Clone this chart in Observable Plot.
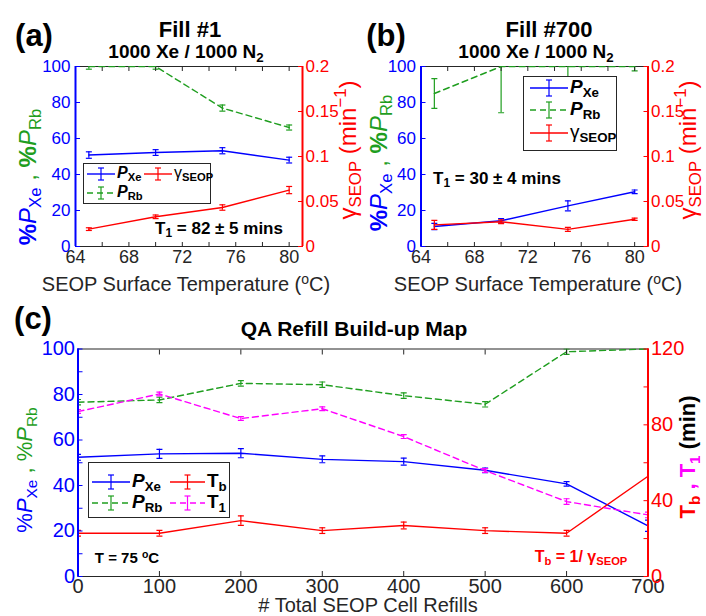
<!DOCTYPE html>
<html><head><meta charset="utf-8">
<script src="https://cdn.jsdelivr.net/npm/d3@7"></script>
<script src="https://cdn.jsdelivr.net/npm/@observablehq/plot@0.6"></script>
<style>
body{margin:0;background:#fff;}
#wrap{position:relative;width:706px;height:616px;overflow:hidden;font-family:"Liberation Sans",Arial,sans-serif;background:#fff;}
.abs{position:absolute;white-space:nowrap;line-height:1;}
.sub{font-size:0.7em;vertical-align:-0.3em;}
.sup{font-size:0.7em;vertical-align:0.55em;}
.leg{position:absolute;box-sizing:border-box;border:1px solid #262626;background:#fff;}
svg.plotpanel{position:absolute;}
</style></head>
<body><div id="wrap"></div>
<script>
// ---------- colours ----------
const BLUE = "#0000ff", GREEN = "#1f9e1f", RED = "#ff0000", MAG = "#ff00ff", INK = "#262626";

// ---------- Panel (a): Fill #1 ----------
const tempsA = [65, 70, 75, 80];
const pxeA = [50.8, 52.2, 53.2, 48.0];
const pxeErrA = [1.8, 1.6, 1.7, 1.6];
const prbA = [100, 100, 76.9, 66.1];
const prbErrA = [1.5, 1.5, 1.7, 1.4];
const gammaA = [0.0193, 0.033, 0.0433, 0.0627];
const gammaErrA = [0.0015, 0.002, 0.003, 0.004];

// ---------- Panel (b): Fill #700 ----------
const tempsB = [65, 70, 75, 80];
const pxeB = [11.1, 14.3, 22.6, 30.4];
const pxeErrB = [1.8, 1.2, 2.8, 1.0];
const prbB = [85, 100, 100, 100];
const prbErrB = [8.3, 25.7, 6.5, 2.4];
const gammaB = [0.024, 0.0275, 0.019, 0.0303];
const gammaErrB = [0.005, 0.002, 0.0022, 0.0012];

// ---------- Panel (c): QA refill build-up map ----------
const refills = [0, 100, 200, 300, 400, 500, 600, 700];
const pxeC = [52.4, 53.9, 54.2, 51.5, 50.5, 46.7, 40.7, 22.3];
const pxeErrC = [1.3, 2, 2, 1.5, 1.5, 1, 1, 2.5];
const prbC = [76.6, 77.6, 84.9, 84.3, 79.5, 75.7, 98.8, 100];
const prbErrC = [1.2, 1.2, 1.2, 1.2, 1.2, 1.2, 1.2, 0];
const t1C = [87.0, 96.3, 83.3, 88.5, 73.8, 55.9, 39.5, 32.5];
const t1ErrC = [1, 1, 1, 1, 1, 1, 1.5, 1.5];
const tbC = [22.8, 22.8, 29.5, 24.2, 26.9, 24.2, 22.8, 52.9];
const tbErrC = [1.5, 1.5, 2.5, 1.5, 1.8, 1.5, 1.5, 0];

// ---------- ticks ----------
const tempDomain = [64, 81];
const tempTicks = [64, 66, 68, 70, 72, 74, 76, 78, 80];
const tempLabels = [64, 68, 72, 76, 80];
const pctDomain = [0, 100];
const pctTicksAB = [0, 20, 40, 60, 80, 100];
const gammaTicks = [0, 0.05, 0.1, 0.15, 0.2];
const refillDomain = [0, 700];
const refillTicks = [0, 100, 200, 300, 400, 500, 600, 700];
const pctTicksC = [0, 10, 20, 30, 40, 50, 60, 70, 80, 90, 100];
const pctLabelsC = [0, 20, 40, 60, 80, 100];
const minTicks = [0, 20, 40, 60, 80, 100, 120];
const minLabels = [0, 40, 80, 120];

const FONT = "Liberation Sans, Arial, sans-serif";
const wrap = document.getElementById("wrap");

const cap = {draw(ctx, size) { const r = Math.sqrt(size / Math.PI); ctx.moveTo(-r, 0); ctx.lineTo(r, 0); }};

function errMarks(rows, x, y, e, color) {
  const data = rows.filter(d => e(d) > 0);
  const o = {stroke: color, strokeWidth: 1.2, clip: true};
  return [
    Plot.ruleX(data, {x, y1: d => y(d) - e(d), y2: d => y(d) + e(d), ...o}),
    Plot.dot(data, {x, y: d => y(d) - e(d), symbol: cap, r: 3, fill: "none", ...o}),
    Plot.dot(data, {x, y: d => y(d) + e(d), symbol: cap, r: 3, fill: "none", ...o})
  ];
}

function place(svg, left, top) {
  svg.classList.add("plotpanel");
  svg.style.left = left + "px";
  svg.style.top = top + "px";
  wrap.appendChild(svg);
}

// ---------- panels (a) and (b) ----------
function tempPanel(temps, pxe, pxeErr, prb, prbErr, gamma, gammaErr, geo) {
  const gk = pctDomain[1] / gammaTicks[gammaTicks.length - 1];
  const rows = temps.map((t, i) => ({t, pxe: pxe[i], pxeE: pxeErr[i], prb: prb[i], prbE: prbErr[i], g: gamma[i] * gk, gE: gammaErr[i] * gk}));
  return Plot.plot({
    width: geo.width, height: geo.height,
    marginLeft: geo.ml, marginRight: geo.mr, marginTop: geo.mt, marginBottom: geo.mb,
    x: {domain: tempDomain, label: null},
    y: {domain: pctDomain, label: null},
    style: {background: "transparent", overflow: "visible", fontFamily: FONT},
    marks: [
      Plot.frame({stroke: INK}),
      Plot.line(rows, {x: "t", y: "prb", stroke: GREEN, strokeWidth: 1.4, strokeDasharray: "6,4", clip: true}),
      ...errMarks(rows, "t", d => d.prb, d => d.prbE, GREEN),
      Plot.line(rows, {x: "t", y: "pxe", stroke: BLUE, strokeWidth: 1.4}),
      ...errMarks(rows, "t", d => d.pxe, d => d.pxeE, BLUE),
      Plot.line(rows, {x: "t", y: "g", stroke: RED, strokeWidth: 1.4}),
      ...errMarks(rows, "t", d => d.g, d => d.gE, RED),
      Plot.axisX(tempTicks, {anchor: "bottom", tickSize: -4, tickPadding: 8, fontSize: 18, color: INK, label: null,
        tickFormat: d => tempLabels.includes(d) ? String(d) : ""}),
      Plot.axisX(tempTicks, {anchor: "top", tickSize: -4, color: INK, label: null, tickFormat: () => ""}),
      Plot.axisY(pctTicksAB, {anchor: "left", tickSize: -5, tickPadding: 10, fontSize: 17, color: BLUE, label: null}),
      Plot.axisY(gammaTicks.map(g => g * gk), {anchor: "right", tickSize: -5, tickPadding: 8, fontSize: 17, color: RED, label: null,
        tickFormat: d => String(+(d / gk).toFixed(3))}),
      Plot.ruleX([tempDomain[0]], {stroke: BLUE, strokeWidth: 2}),
      Plot.ruleX([tempDomain[1]], {stroke: RED, strokeWidth: 2})
    ]
  });
}

place(tempPanel(tempsA, pxeA, pxeErrA, prbA, prbErrA, gammaA, gammaErrA,
  {width: 350, height: 295, ml: 75, mr: 48, mt: 66, mb: 49}), 0, 0);
place(tempPanel(tempsB, pxeB, pxeErrB, prbB, prbErrB, gammaB, gammaErrB,
  {width: 356, height: 295, ml: 70.5, mr: 58.5, mt: 66, mb: 49}), 350, 0);

// ---------- panel (c) ----------
{
  const mk = pctDomain[1] / minTicks[minTicks.length - 1];
  const rows = refills.map((n, i) => ({n, pxe: pxeC[i], pxeE: pxeErrC[i], prb: prbC[i], prbE: prbErrC[i],
    t1: t1C[i] * mk, t1E: t1ErrC[i] * mk, tb: tbC[i] * mk, tbE: tbErrC[i] * mk}));
  const svg = Plot.plot({
    width: 706, height: 316, marginLeft: 77.5, marginRight: 58.5, marginTop: 48.5, marginBottom: 40,
    x: {domain: refillDomain, label: null},
    y: {domain: pctDomain, label: null},
    style: {background: "transparent", overflow: "visible", fontFamily: FONT},
    marks: [
      Plot.frame({stroke: INK}),
      Plot.line(rows, {x: "n", y: "prb", stroke: GREEN, strokeWidth: 1.4, strokeDasharray: "6,4"}),
      ...errMarks(rows, "n", d => d.prb, d => d.prbE, GREEN),
      Plot.line(rows, {x: "n", y: "pxe", stroke: BLUE, strokeWidth: 1.4}),
      ...errMarks(rows, "n", d => d.pxe, d => d.pxeE, BLUE),
      Plot.line(rows, {x: "n", y: "tb", stroke: RED, strokeWidth: 1.4}),
      ...errMarks(rows, "n", d => d.tb, d => d.tbE, RED),
      Plot.line(rows, {x: "n", y: "t1", stroke: MAG, strokeWidth: 1.4, strokeDasharray: "6,4"}),
      ...errMarks(rows, "n", d => d.t1, d => d.t1E, MAG),
      Plot.axisX(refillTicks, {anchor: "bottom", tickSize: -5, tickPadding: 7, fontSize: 20, color: INK, label: null}),
      Plot.axisX(refillTicks, {anchor: "top", tickSize: -5, color: INK, label: null, tickFormat: () => ""}),
      Plot.axisY(pctTicksC, {anchor: "left", tickSize: -5, tickPadding: 8, fontSize: 20, color: BLUE, label: null,
        tickFormat: d => pctLabelsC.includes(d) ? String(d) : ""}),
      Plot.axisY(minTicks.map(m => m * mk), {anchor: "right", tickSize: -5, tickPadding: 8, fontSize: 20, color: RED, label: null,
        tickFormat: d => { const m = Math.round(d / mk); return minLabels.includes(m) ? String(m) : ""; }}),
      Plot.ruleX([refillDomain[0]], {stroke: BLUE, strokeWidth: 2}),
      Plot.ruleX([refillDomain[1]], {stroke: RED, strokeWidth: 2})
    ]
  });
  place(svg, 0, 300);
}

// ---------- legends ----------
function box(l, t, w, h) {
  const d = document.createElement("div");
  d.className = "leg";
  Object.assign(d.style, {left: l + "px", top: t + "px", width: w + "px", height: h + "px"});
  wrap.appendChild(d);
}
box(83, 163, 128, 41);
box(523, 76, 94, 75);
box(88, 462, 142, 56);

const ov = d3.select(wrap).append("svg").attr("width", 706).attr("height", 616)
  .style("position", "absolute").style("left", 0).style("top", 0).style("overflow", "visible");
function sample(x1, x2, y, color, dash, h) {
  const g = ov.append("g").attr("stroke", color).attr("stroke-width", 1.4).attr("fill", "none");
  g.append("line").attr("x1", x1).attr("x2", x2).attr("y1", y).attr("y2", y).attr("stroke-dasharray", dash ? "6,4" : null);
  const xm = (x1 + x2) / 2;
  g.append("line").attr("x1", xm).attr("x2", xm).attr("y1", y - h).attr("y2", y + h).attr("stroke-width", 1.2);
  g.append("line").attr("x1", xm - 3).attr("x2", xm + 3).attr("y1", y - h).attr("y2", y - h).attr("stroke-width", 1.2);
  g.append("line").attr("x1", xm - 3).attr("x2", xm + 3).attr("y1", y + h).attr("y2", y + h).attr("stroke-width", 1.2);
}
sample(87, 115, 174, BLUE, false, 6);
sample(144, 172, 174, RED, false, 6);
sample(87, 115, 193, GREEN, true, 6);
sample(530, 568, 88, BLUE, false, 8);
sample(530, 568, 110, GREEN, true, 8);
sample(530, 568, 133, RED, false, 8);
sample(92, 130, 482, BLUE, false, 7);
sample(170, 205, 482, RED, false, 7);
sample(92, 130, 503, GREEN, true, 7);
sample(170, 205, 503, MAG, true, 7);

// ---------- text ----------
function txt(html, x, y, o = {}) {
  const d = document.createElement("div");
  d.className = "abs";
  d.innerHTML = html;
  d.style.left = x + "px"; d.style.top = y + "px";
  d.style.fontSize = (o.size || 16) + "px";
  d.style.color = o.color || INK;
  if (o.bold) d.style.fontWeight = "bold";
  d.style.transform = o.rotate ? "translate(-50%,-50%) rotate(-90deg)" : (o.left ? "translate(0,-50%)" : "translate(-50%,-50%)");
  wrap.appendChild(d);
  return d;
}
const sb = s => `<span class="sub">${s}</span>`;
const sp = s => `<span class="sup">${s}</span>`;
const Pb = s => `<b><i>P</i>${sb(s)}</b>`;

// panel letters and titles
txt("(a)", 34, 35, {size: 31, bold: true, color: "#000"});
txt("(b)", 386, 35, {size: 31, bold: true, color: "#000"});
txt("(c)", 33, 318, {size: 31, bold: true, color: "#000"});
txt("Fill #1", 190, 30, {size: 22, bold: true, color: "#000"});
txt("1000 Xe / 1000 N" + sb("2"), 186, 53, {size: 19, bold: true, color: "#000"});
txt("Fill #700", 549, 30, {size: 22, bold: true, color: "#000"});
txt("1000 Xe / 1000 N" + sb("2"), 536, 53, {size: 19, bold: true, color: "#000"});
txt("QA Refill Build-up Map", 354, 328, {size: 21, bold: true, color: "#000"});

// axis titles
const leftAB = `<span style="color:${BLUE}"><b>%</b><i>P</i>${sb("Xe")}</span><span style="color:${GREEN}"> , <b>%</b><i>P</i>${sb("Rb")}</span>`;
txt(leftAB, 30, 177, {size: 24, rotate: true});
txt(leftAB, 381, 163, {size: 24, rotate: true});
const rightAB = `γ${sb("SEOP")} (min${sp("−1")})`;
txt(rightAB, 349, 150, {size: 24, rotate: true, color: RED});
txt(rightAB, 689, 150, {size: 24, rotate: true, color: RED});
txt("SEOP Surface Temperature (" + sp("o") + "C)", 186, 283, {size: 20});
txt("SEOP Surface Temperature (" + sp("o") + "C)", 538, 283, {size: 20});
txt(`<span style="color:${BLUE}">%<i>P</i>${sb("Xe")}</span><span style="color:${GREEN}"> , %<i>P</i>${sb("Rb")}</span>`, 27, 470, {size: 22, rotate: true});
txt(`<span style="color:${RED}">T${sb("b")}</span><span style="color:${MAG}"> , T${sb("1")}</span> <span style="color:#000">(min)</span>`, 690, 457, {size: 22, rotate: true, bold: true});
txt("# Total SEOP Cell Refills", 368, 605, {size: 20});

// legend labels
txt(Pb("Xe"), 117, 174, {size: 16, left: true, color: "#000"});
txt(`γ<b>${sb("SEOP")}</b>`, 174, 174, {size: 16, left: true, color: "#000"});
txt(Pb("Rb"), 117, 193, {size: 16, left: true, color: "#000"});
txt(Pb("Xe"), 570, 88, {size: 19, left: true, color: "#000"});
txt(Pb("Rb"), 570, 110, {size: 19, left: true, color: "#000"});
txt(`γ<b>${sb("SEOP")}</b>`, 570, 133, {size: 19, left: true, color: "#000"});
txt(Pb("Xe"), 132, 482, {size: 19, left: true, color: "#000"});
txt(Pb("Rb"), 132, 503, {size: 19, left: true, color: "#000"});
txt(`<b>T${sb("b")}</b>`, 207, 482, {size: 19, left: true, color: "#000"});
txt(`<b>T${sb("1")}</b>`, 207, 503, {size: 19, left: true, color: "#000"});

// annotations
txt("T" + sb("1") + " = 82 ± 5 mins", 219, 230, {size: 17, bold: true, color: "#000"});
txt("T" + sb("1") + " = 30 ± 4 mins", 497, 180, {size: 17, bold: true, color: "#000"});
txt("T = 75 " + sp("o") + "C", 127, 557, {size: 15, bold: true, color: "#000"});
txt("T" + sb("b") + " = 1/ γ" + sb("SEOP"), 581, 558, {size: 16, bold: true, color: RED});
</script></body></html>
